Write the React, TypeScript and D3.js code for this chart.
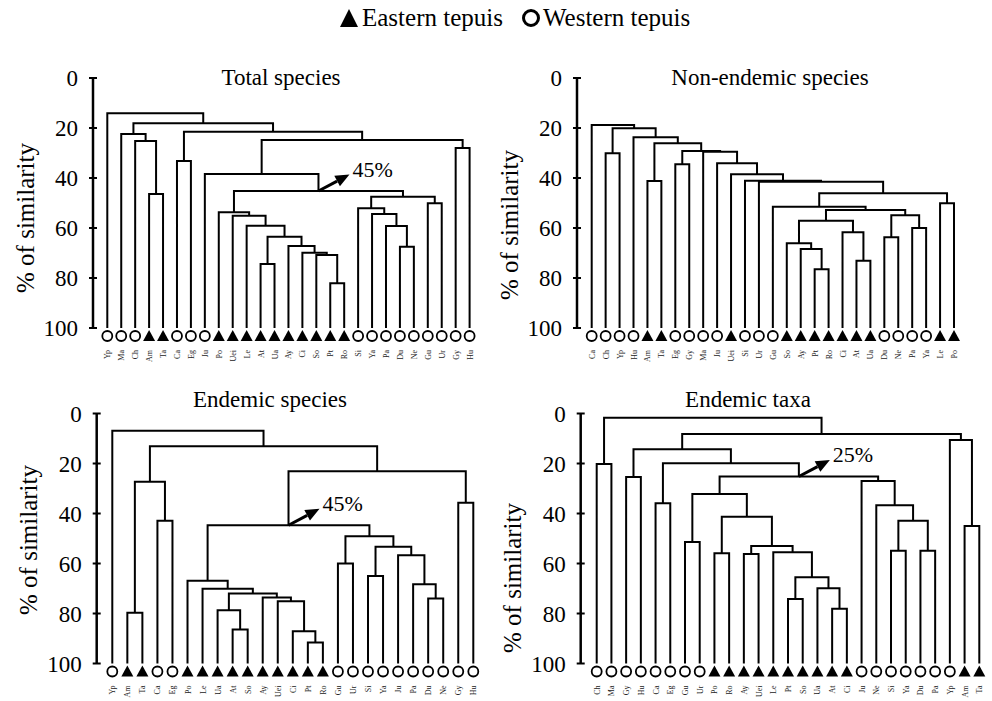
import React from 'react';
import * as d3 from 'd3';

// Tepui groups
const eastern = ['Am', 'Ta', 'Po', 'Uei', 'Le', 'At', 'Ua', 'Ay', 'Ci', 'So', 'Pt', 'Ro'];

// Trees as nested [left, right, % similarity]
type Tree = string | [Tree, Tree, number];

const totalSpecies: Tree = ['Yp', [
  ['Ma', ['Ch', ['Am', 'Ta', 46.4], 25.2], 22.4],
  [['Ca', 'Eg', 33.2],
    [['Ju', [
      ['Po', ['Uei', ['Le', [['At', 'Ua', 74.4], ['Ay', ['Ci', ['So', ['Pt', 'Ro', 82.1], 70.8], 69.9], 67.2], 63.5], 59.1], 55.1], 53.7],
      [['Si', ['Ya', ['Pa', ['Du', 'Ne', 67.5], 59.2], 54.4], 52.1], ['Gu', 'Ur', 50.1], 47.5],
      45.2], 38.4],
    ['Gy', 'Hu', 28], 24.8], 21.5],
  18.1], 14.1];

const nonEndemicSpecies: Tree = ['Ca', [
  ['Ch', 'Yp', 30.1],
  ['Hu', [['Am', 'Ta', 41.2],
    [['Eg', 'Gy', 34.5],
      ['Ma', ['Ju', ['Uei', ['Si', ['Ur', [
        ['Gu', [
          [['So', ['Ay', ['Pt', 'Ro', 76.5], 68.4], 66.1], ['Ci', ['At', 'Ua', 73.1], 61.7], 57.1],
          [['Du', 'Ne', 63.7], ['Pa', 'Ya', 60], 54.9],
          52.8], 51.5],
        ['Le', 'Po', 50.1], 46.1], 41.5], 41.1], 38.5], 34.1], 29.5],
      29.2], 26.1], 23.7],
  20.1], 18.8];

const endemicSpecies: Tree = ['Yp', [
  [['Am', 'Ta', 79.7], ['Ca', 'Eg', 42.9], 27.3],
  [[
    ['Po', ['Le', [['Ua', ['At', 'So', 86.4], 78.7], ['Ay', ['Uei', ['Ci', ['Pt', 'Ro', 91.6], 87.1], 75.1], 73.6], 72], 70.1], 66.9],
    [['Gu', 'Ur', 60], [['Si', 'Ya', 65], ['Ju', ['Pa', ['Du', 'Ne', 74], 68.3], 56.7], 53.3], 49.1],
    44.7],
  ['Gy', 'Hu', 35.7], 23.1],
  13.1], 6.9];

const endemicTaxa: Tree = [['Ch', 'Ma', 20.2], [
  [['Gy', 'Hu', 25.4],
    [['Ca', 'Eg', 35.9],
      [[['Gu', 'Ur', 51.4],
        [['Po', 'Ro', 55.9], [['Ay', 'Uei', 56.2], ['Le', [['Pt', 'So', 74.2], ['Ua', ['At', 'Ci', 78.1], 69.9], 65.5], 55.5], 53], 41.3],
        32.2],
      ['Ju', ['Ne', [['Si', 'Ya', 54.9], ['Du', 'Pa', 54.9], 42.9], 36.7], 27],
      25.2], 19.9], 14.3],
  ['Yp', ['Am', 'Ta', 45], 10.6],
  8.2], 1.7];

const simTicks = [0, 20, 40, 60, 80, 100];
const legendItems = ['Eastern tepuis', 'Western tepuis'];

const panels = [
  { title: 'Total species', tree: totalSpecies, mark: 45.2, markLabel: '45%', axisX: 93, x0: 107.3, x1: 469.6, top: 78, bottom: 328, titleX: 281, titleY: 85, labelY: 218 },
  { title: 'Non-endemic species', tree: nonEndemicSpecies, mark: null, markLabel: '', axisX: 577, x0: 591.7, x1: 954, top: 78, bottom: 328, titleX: 770, titleY: 85, labelY: 225 },
  { title: 'Endemic species', tree: endemicSpecies, mark: 44.7, markLabel: '45%', axisX: 96.7, x0: 112.3, x1: 473.3, top: 413.5, bottom: 663.5, titleX: 270, titleY: 407, labelY: 540 },
  { title: 'Endemic taxa', tree: endemicTaxa, mark: 25.2, markLabel: '25%', axisX: 580.7, x0: 596.7, x1: 979.3, top: 413.5, bottom: 663.5, titleX: 748, titleY: 407, labelY: 578 },
];

const FONT = "'Liberation Serif', 'Times New Roman', Times, serif";

function Dendrogram({ p }: { p: any }) {
  const root: any = d3.hierarchy<Tree>(p.tree, d => (Array.isArray(d) ? [d[0], d[1]] : null));
  const leafNames = root.leaves().map((l: any) => l.data as string);
  const x = d3.scalePoint<string>().domain(leafNames).range([p.x0, p.x1]);
  const y = d3.scaleLinear().domain([0, 100]).range([p.top, p.bottom]);

  root.eachAfter((n: any) => {
    if (n.children) {
      n.x = (n.children[0].x + n.children[1].x) / 2;
      n.sim = n.data[2];
    } else {
      n.x = x(n.data);
      n.sim = 100;
    }
  });

  const links: string[] = [];
  let markNode: any = null;
  root.each((n: any) => {
    if (!n.children) return;
    const [a, b] = n.children;
    links.push(`M${a.x},${y(a.sim)}V${y(n.sim)}H${b.x}V${y(b.sim)}`);
    if (p.mark != null && n.sim === p.mark) markNode = n;
  });

  // arrow for the cut level
  let arrow = null;
  if (markNode) {
    const sx = markNode.x, sy = y(markNode.sim);
    const tx = sx + 31, ty = sy - 16.5;
    const len = Math.hypot(tx - sx, ty - sy);
    const ux = (tx - sx) / len, uy = (ty - sy) / len;
    const hl = 14, hw = 6;
    const bx = tx - ux * hl, by = ty - uy * hl;
    const head = `M${tx},${ty}L${bx - uy * hw},${by + ux * hw}L${bx + uy * hw},${by - ux * hw}Z`;
    arrow = (
      <g>
        <line x1={sx} y1={sy} x2={bx} y2={by} stroke="#000" strokeWidth={3} />
        <path d={head} fill="#000" />
        <text x={tx + 3} y={ty + 2} fontSize={22}>{p.markLabel}</text>
      </g>
    );
  }

  return (
    <g>
      <text x={p.titleX} y={p.titleY} textAnchor="middle" fontSize={23}>{p.title}</text>
      <text transform={`translate(${p.axisX - 68},${p.labelY}) rotate(-90)`} textAnchor="middle" dominantBaseline="central" fontSize={25}>% of similarity</text>
      <line x1={p.axisX} x2={p.axisX} y1={p.top} y2={p.bottom} stroke="#000" strokeWidth={2.5} />
      {simTicks.map(t => (
        <g key={t}>
          <line x1={p.axisX - 4} x2={p.axisX + 4} y1={y(t)} y2={y(t)} stroke="#000" strokeWidth={2} />
          <text x={p.axisX - 15} y={y(t)} dy="0.35em" textAnchor="end" fontSize={23}>{t}</text>
        </g>
      ))}
      <path d={links.join('')} fill="none" stroke="#000" strokeWidth={2} />
      {arrow}
      {leafNames.map((name: string) => {
        const lx = x(name) as number;
        const my = p.bottom + 8;
        return (
          <g key={name}>
            {eastern.includes(name)
              ? <path d={`M${lx},${my - 6}L${lx + 6},${my + 5}L${lx - 6},${my + 5}Z`} fill="#000" />
              : <circle cx={lx} cy={my} r={5} fill="#fff" stroke="#000" strokeWidth={1.8} />}
            <text transform={`translate(${lx + 3},${p.bottom + 22}) rotate(-90)`} textAnchor="end" fontSize={8} fill="#222">{name}</text>
          </g>
        );
      })}
    </g>
  );
}

export default function App() {
  return (
    <svg width={992} height={701} fontFamily={FONT} style={{ position: 'absolute', left: 0, top: 0, background: '#fff' }}>
      <rect width={992} height={701} fill="#fff" />
      <g>
        <path d="M340,27L349,9L358,27Z" fill="#000" />
        <text x={362} y={26} fontSize={25}>{legendItems[0]}</text>
        <circle cx={531} cy={18} r={7.5} fill="#fff" stroke="#000" strokeWidth={3} />
        <text x={543} y={26} fontSize={25}>{legendItems[1]}</text>
      </g>
      {panels.map(p => <Dendrogram key={p.title} p={p} />)}
    </svg>
  );
}
